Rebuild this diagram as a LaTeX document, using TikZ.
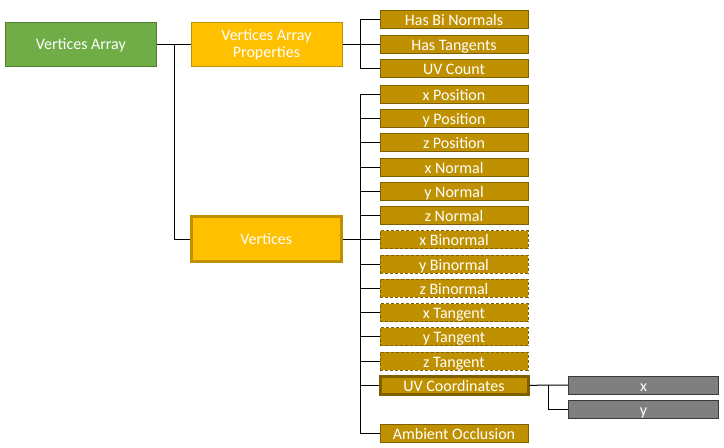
\documentclass[tikz,border=0pt]{standalone}
\usepackage{fontspec}
\setmainfont{Carlito}
\definecolor{vagreen}{HTML}{70AD47}
\definecolor{vagreenline}{HTML}{507E32}
\definecolor{gold}{HTML}{FFC000}
\definecolor{darkgold}{HTML}{BF9000}
\definecolor{goldline}{HTML}{7F6000}
\definecolor{greybox}{HTML}{7F7F7F}
\definecolor{greyline}{HTML}{3A3A3A}

\tikzset{
  box/.style={draw, line width=0.75pt, text=white, align=center, inner sep=0pt,
    font=\fontsize{12}{12.75}\selectfont},
  bigbox/.style={box, minimum width=113.25pt, minimum height=33pt},
  field/.style={box, fill=darkgold, draw=goldline, minimum width=111pt, minimum height=13.5pt,
    text height=9.5pt, text depth=0.3pt},
  dfield/.style={field, dash pattern=on 2.25pt off 1.5pt},
  tfield/.style={field, line width=2.25pt},
  axisbox/.style={field, fill=greybox, draw=greyline, minimum width=112.5pt},
  link/.style={line width=0.75pt, black}
}

\begin{document}
\begin{tikzpicture}[x=0.75pt, y=-0.75pt]
  \useasboundingbox (0,0) rectangle (724,447);

  % top level
  \node[bigbox, fill=vagreen, draw=vagreenline] (va) at (80.8,44.8) {Vertices Array};
  \node[bigbox, fill=gold, draw=darkgold] (vap) at (266.5,44.8) {Vertices Array\\Properties};
  \node[bigbox, fill=gold, draw=darkgold, line width=2.25pt, minimum width=112.25pt, minimum height=33.75pt]
    (vert) at (266.3,239) {Vertices};
  \coordinate (vaj) at (174,44.8);
  \draw[link] (va.east) -- (vap.west);
  \draw[link] (vaj) |- (vert.west);

  % properties
  \node[field] (hbn) at (454,19.6) {Has Bi Normals};
  \node[field] (ht) at (454,44.8) {Has Tangents};
  \node[field] (uvc) at (454,68.7) {UV Count};
  \coordinate (pj) at (360.5,44.8);
  \draw[link] (vap.east) -- (pj);
  \foreach \nm in {hbn,ht,uvc}
    \draw[link] (pj) |- (\nm.west);

  % vertex fields
  \foreach \k/\nm/\txt/\st in {0/xpos/x Position/field, 1/ypos/y Position/field,
      2/zpos/z Position/field, 3/xnor/x Normal/field, 4/ynor/y Normal/field,
      5/znor/z Normal/field, 6/xbin/x Binormal/dfield, 7/ybin/y Binormal/dfield,
      8/zbin/z Binormal/dfield, 9/xtan/x Tangent/dfield, 10/ytan/y Tangent/dfield,
      11/ztan/z Tangent/dfield, 12/uv/UV Coordinates/tfield, 14/ao/Ambient Occlusion/field}
    \node[\st] (\nm) at (454,94.3+24.25*\k) {\txt};
  \coordinate (vj) at (360.5,239);
  \draw[link] (vert.east) -- (vj);
  \draw[link] (xpos.west) -| (vj) |- (ao.west);
  \foreach \nm in {ypos,zpos,xnor,ynor,znor,xbin,ybin,zbin,xtan,ytan,ztan,uv}
    \draw[link] (\nm.west) -- (\nm.west -| vj);

  % uv coordinates
  \node[axisbox] (uvx) at (643.5,385) {x};
  \node[axisbox] (uvy) at (643.5,409.7) {y};
  \coordinate (uj) at (548.3,385);
  \draw[link] (uv.east) -- (uvx.west);
  \draw[link] (uj) |- (uvy.west);
\end{tikzpicture}
\end{document}
